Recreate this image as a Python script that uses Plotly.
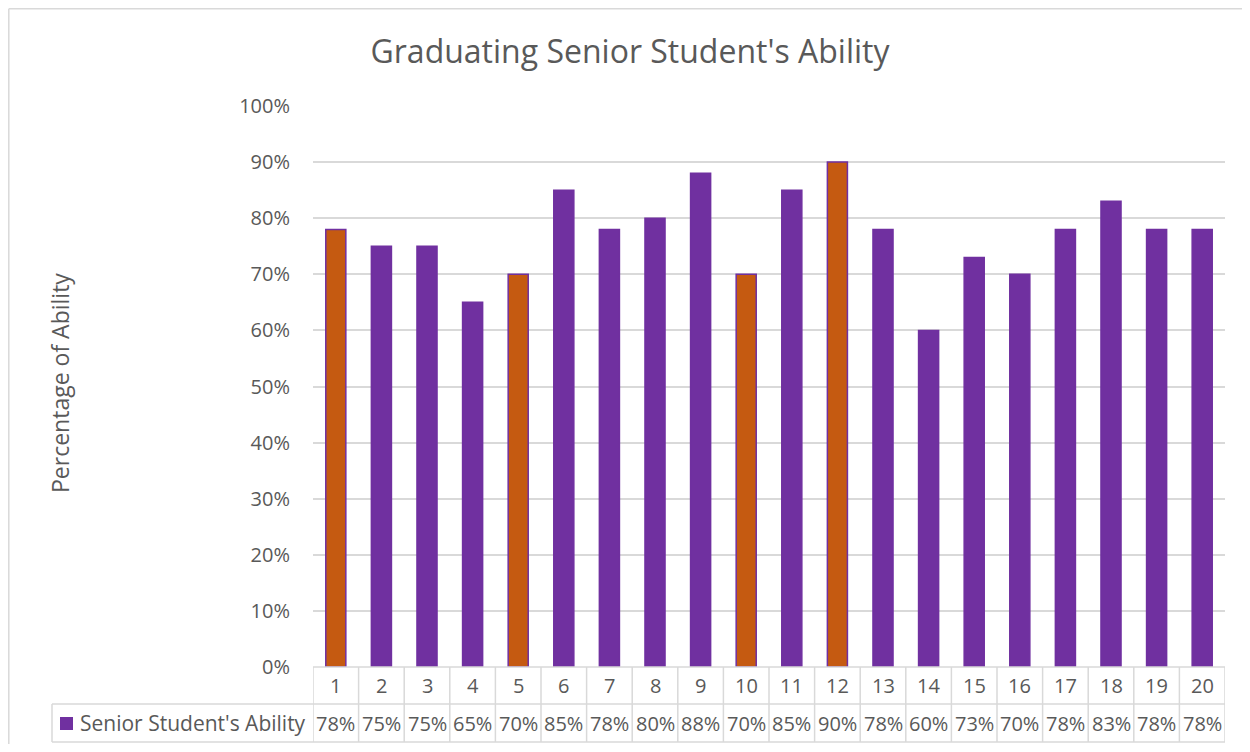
import plotly.graph_objects as go

categories = [str(i) for i in range(1, 21)]
values = [0.78, 0.75, 0.75, 0.65, 0.70, 0.85, 0.78, 0.80, 0.88, 0.70,
          0.85, 0.90, 0.78, 0.60, 0.73, 0.70, 0.78, 0.83, 0.78, 0.78]
highlighted = ["1", "5", "10", "12"]
series_name = "Senior Student's Ability"
title_text = "Graduating Senior Student's Ability"
y_title = "Percentage of Ability"

PURPLE = "#7030A0"
ORANGE = "#C55A11"
TEXT = "#595959"
GRID = "#D9D9D9"
FONT = "Open Sans"

OFF = 8  # default page body margin
W, H = 1250 - 2 * OFF, 752 - 2 * OFF
L, T = 313 - OFF, 106 - OFF
R = W - (1225 - OFF)
B = H - (667 - OFF)
PW, PH = W - L - R, H - T - B

def px_x(p):
    return (p - OFF - L) / PW

def px_y(p):
    return (H - B - (p - OFF)) / PH

xs = list(range(1, len(categories) + 1))
colors = [ORANGE if c in highlighted else PURPLE for c in categories]

fig = go.Figure()
fig.add_trace(go.Bar(
    x=xs, y=values, name=series_name,
    marker=dict(color=colors, line=dict(color=PURPLE, width=1.5)),
    showlegend=False,
))

shapes = []
annotations = []
row1_bot = px_y(704)
row2_bot = px_y(742)
leg_left = px_x(52)
lw = 1.5

shapes.append(dict(type="line", xref="x", yref="paper", x0=0.5, x1=len(xs) + 0.5,
                   y0=0, y1=0, line=dict(color=GRID, width=lw)))
for yy in (row1_bot, row2_bot):
    shapes.append(dict(type="line", xref="paper", yref="paper", x0=leg_left, x1=1,
                       y0=yy, y1=yy, line=dict(color=GRID, width=lw)))
for i in range(len(xs) + 1):
    shapes.append(dict(type="line", xref="x", yref="paper", x0=i + 0.5, x1=i + 0.5,
                       y0=0, y1=row2_bot, line=dict(color=GRID, width=lw)))
shapes.append(dict(type="line", xref="paper", yref="paper", x0=leg_left, x1=leg_left,
                   y0=row1_bot, y1=row2_bot, line=dict(color=GRID, width=lw)))
shapes.append(dict(type="rect", xref="paper", yref="paper",
                   x0=px_x(60), x1=px_x(73), y0=px_y(730), y1=px_y(717),
                   fillcolor=PURPLE, line=dict(width=0)))
shapes.append(dict(type="line", xref="paper", yref="paper", x0=px_x(8.8), x1=px_x(8.8),
                   y0=px_y(8.8), y1=px_y(800), line=dict(color=GRID, width=1.5)))
shapes.append(dict(type="line", xref="paper", yref="paper", x0=px_x(8.8), x1=px_x(1300),
                   y0=px_y(8.8), y1=px_y(8.8), line=dict(color=GRID, width=1.5)))

for x, c, v in zip(xs, categories, values):
    annotations.append(dict(x=x, y=(0 + row1_bot) / 2, xref="x", yref="paper",
                            text=c, showarrow=False, xanchor="center", yanchor="middle",
                            font=dict(family=FONT, size=20, color=TEXT)))
    annotations.append(dict(x=x, y=(row1_bot + row2_bot) / 2, xref="x", yref="paper",
                            text=f"{round(v * 100)}%", showarrow=False,
                            xanchor="center", yanchor="middle",
                            font=dict(family=FONT, size=20, color=TEXT)))
annotations.append(dict(x=px_x(78), y=(row1_bot + row2_bot) / 2, xref="paper", yref="paper",
                        text=series_name, showarrow=False, xanchor="left", yanchor="middle",
                        font=dict(family=FONT, size=21, color=TEXT)))
annotations.append(dict(x=px_x(60), y=px_y(383), xref="paper", yref="paper",
                        text=y_title, showarrow=False, textangle=-90,
                        xanchor="center", yanchor="middle",
                        font=dict(family=FONT, size=23, color=TEXT)))

fig.update_layout(
    width=W, height=H,
    margin=dict(l=L, r=R, t=T, b=B, autoexpand=False),
    paper_bgcolor="white", plot_bgcolor="white",
    bargap=0.56,
    title=dict(text=title_text, x=(630 - OFF) / W, y=1 - (52 - OFF) / H,
               xref="container", yref="container",
               xanchor="center", yanchor="middle",
               font=dict(family=FONT, size=32, color=TEXT)),
    xaxis=dict(range=[0.5, len(xs) + 0.5], showticklabels=False, showgrid=False,
               zeroline=False, showline=False, ticks=""),
    yaxis=dict(range=[0, 1], dtick=0.1, tickformat=".0%", showgrid=True, gridcolor=GRID,
               gridwidth=1.5, zeroline=False, showline=False, ticks="",
               ticklabelstandoff=22,
               tickfont=dict(family=FONT, size=20, color=TEXT)),
    shapes=shapes,
    annotations=annotations,
)

fig.write_html("out.html")
